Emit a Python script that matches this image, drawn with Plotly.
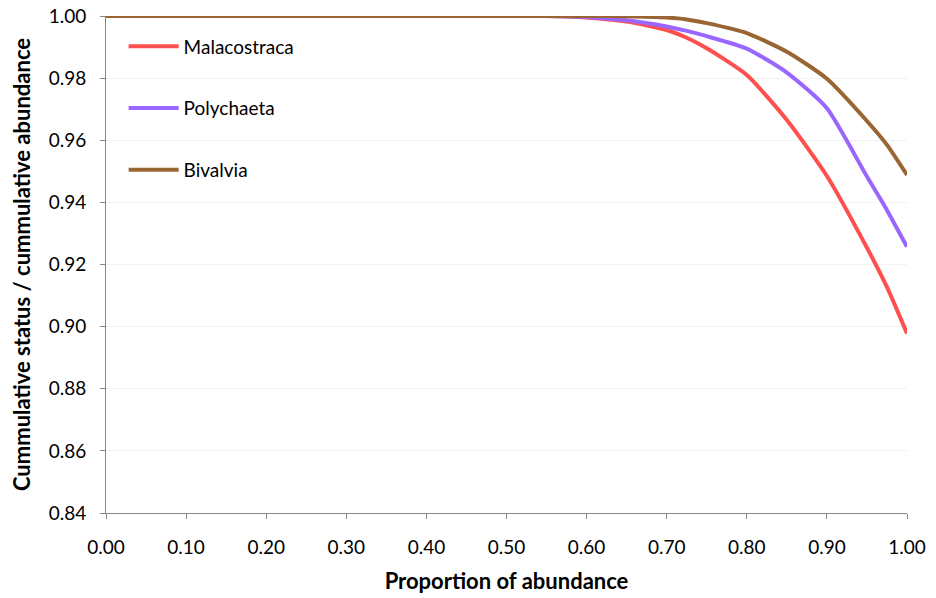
import plotly.graph_objects as go

# Proportion of abundance (x) and cumulative status / cumulative abundance (y)
proportion = [0.0, 0.1, 0.2, 0.3, 0.4, 0.5, 0.55, 0.6, 0.65, 0.7, 0.725, 0.75,
              0.8, 0.85, 0.9, 0.95, 0.975, 1.0]

malacostraca = [1.0, 1.0, 1.0, 1.0, 1.0, 1.0, 1.0, 0.9995, 0.9982, 0.9955, 0.9930, 0.9896,
                0.9810, 0.9665, 0.9485, 0.9254, 0.9127, 0.8978]
polychaeta = [1.0, 1.0, 1.0, 1.0, 1.0, 1.0, 1.0, 0.9997, 0.9986, 0.9966, 0.9952, 0.9935,
              0.9895, 0.9818, 0.9703, 0.9483, 0.9375, 0.9257]
bivalvia = [1.0, 1.0, 1.0, 1.0, 1.0, 1.0, 1.0, 1.0, 0.9999, 0.9995, 0.9989, 0.9977,
            0.9945, 0.9885, 0.9798, 0.9662, 0.9585, 0.9488]

series = [
    ("Malacostraca", malacostraca, "#FF5050"),
    ("Polychaeta", polychaeta, "#9966FF"),
    ("Bivalvia", bivalvia, "#996633"),
]

x_ticks = [i / 10 for i in range(11)]
y_ticks = [0.84 + 0.02 * i for i in range(9)]

font_family = "Lato, 'Open Sans', sans-serif"

fig = go.Figure()
for name, values, color in series:
    fig.add_trace(go.Scatter(
        x=proportion, y=values, name=name, mode="lines",
        line=dict(color=color, width=4, shape="spline", smoothing=0.6),
        legendgroup=name,
    ))

fig.update_layout(
    width=936, height=598,
    margin=dict(l=106, r=29, t=16, b=85),
    paper_bgcolor="white", plot_bgcolor="white",
    font=dict(family=font_family, color="black"),
    showlegend=True,
    legend=dict(
        x=0.022, y=0.977, xanchor="left", yanchor="top",
        bgcolor="rgba(0,0,0,0)", font=dict(size=19, family=font_family),
        tracegroupgap=34, traceorder="grouped", itemwidth=50,
    ),
    xaxis=dict(
        range=[0, 1], tickvals=x_ticks, ticktext=[f"{v:.2f}" for v in x_ticks],
        showgrid=False, zeroline=False, automargin=False,
        showline=True, linecolor="#868686", linewidth=1,
        ticks="outside", ticklen=5, tickcolor="#868686",
        ticklabelstandoff=12,
        tickfont=dict(size=19), title=dict(text="<b>Proportion of abundance</b>",
                                           font=dict(size=22), standoff=16),
    ),
    yaxis=dict(
        range=[0.84, 1.0], tickvals=y_ticks, ticktext=[f"{v:.2f}" for v in y_ticks],
        showgrid=True, gridcolor="#F2F2F2", gridwidth=1, zeroline=False,
        automargin=False,
        showline=True, linecolor="#868686", linewidth=1,
        ticks="outside", ticklen=5, tickcolor="#868686",
        ticklabelstandoff=10,
        tickfont=dict(size=19),
        title=dict(text="<b>Cummulative status / cummulative abundance</b>",
                   font=dict(size=22), standoff=11),
    ),
)

fig.write_html("out.html")
